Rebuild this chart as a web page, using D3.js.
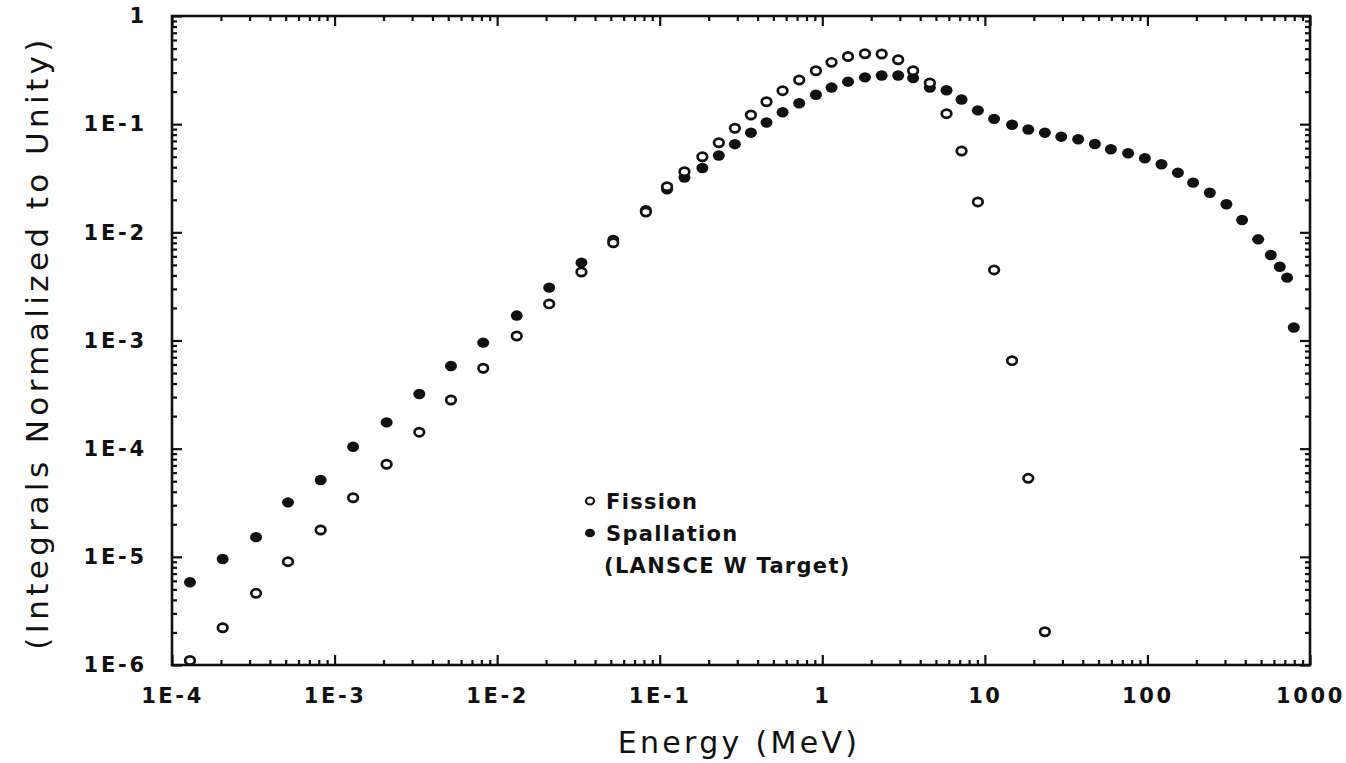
<!DOCTYPE html>
<html>
<head>
<meta charset="utf-8">
<script src="https://cdn.jsdelivr.net/npm/d3@7"></script>
<style>
  html, body { margin: 0; padding: 0; background: #fff; }
  svg { display: block; }
  .tick text { font-family: "DejaVu Sans", sans-serif; }
</style>
</head>
<body>
<svg id="chart" width="1346" height="763"></svg>
<script>
// ---- Data ----
const fissionEnergy = [1.29e-4, 2.05e-4, 3.29e-4, 5.17e-4, 8.21e-4, 1.30e-3, 2.09e-3, 3.32e-3, 5.20e-3, 8.21e-3,
  1.32e-2, 2.09e-2, 3.30e-2, 5.18e-2, 8.22e-2, 0.111, 0.142, 0.183, 0.231, 0.290,
  0.364, 0.454, 0.570, 0.721, 0.914, 1.14, 1.44, 1.83, 2.32, 2.93,
  3.62, 4.59, 5.81, 7.19, 9.06, 11.4, 14.7, 18.5, 23.4];
const fissionValue = [1.10e-6, 2.21e-6, 4.60e-6, 9.02e-6, 1.77e-5, 3.52e-5, 7.17e-5, 1.42e-4, 2.82e-4, 5.54e-4,
  1.10e-3, 2.18e-3, 4.30e-3, 8.0e-3, 1.54e-2, 2.64e-2, 3.64e-2, 5.00e-2, 6.74e-2, 9.16e-2,
  0.1215, 0.161, 0.204, 0.256, 0.312, 0.373, 0.422, 0.448, 0.445, 0.394,
  0.312, 0.240, 0.125, 0.0565, 0.0191, 4.49e-3, 6.51e-4, 5.32e-5, 2.03e-6];

const spallationEnergy = [1.29e-4, 2.05e-4, 3.29e-4, 5.17e-4, 8.21e-4, 1.30e-3, 2.09e-3, 3.32e-3, 5.20e-3, 8.21e-3,
  1.32e-2, 2.09e-2, 3.30e-2, 5.18e-2, 8.22e-2, 0.111, 0.142, 0.183, 0.231, 0.290,
  0.364, 0.454, 0.570, 0.721, 0.914, 1.14, 1.44, 1.83, 2.32, 2.93,
  3.62, 4.59, 5.81, 7.19, 9.06, 11.4, 14.7, 18.5, 23.4, 29.5,
  37.5, 47.5, 59.6, 76.1, 96.4, 122, 154, 191, 242, 306,
  382, 480, 574, 652, 723, 795];
const spallationValue = [5.82e-6, 9.55e-6, 1.52e-5, 3.19e-5, 5.13e-5, 1.04e-4, 1.75e-4, 3.20e-4, 5.81e-4, 9.55e-4,
  1.70e-3, 3.08e-3, 5.24e-3, 8.49e-3, 1.60e-2, 2.50e-2, 3.21e-2, 3.93e-2, 5.13e-2, 6.53e-2,
  8.34e-2, 0.1036, 0.1288, 0.156, 0.187, 0.218, 0.247, 0.271, 0.282, 0.282,
  0.267, 0.218, 0.206, 0.169, 0.134, 0.112, 0.0987, 0.0893, 0.0834, 0.0766,
  0.0725, 0.0656, 0.0586, 0.0538, 0.0484, 0.0426, 0.0356, 0.0288, 0.0232, 0.0182,
  0.0130, 0.00862, 0.00617, 0.00481, 0.00381, 0.00132];

const xTickValues = [1e-4, 1e-3, 1e-2, 1e-1, 1, 10, 100, 1000];
const xTickLabels = ["1E-4", "1E-3", "1E-2", "1E-1", "1", "10", "100", "1000"];
const yTickValues = [1e-6, 1e-5, 1e-4, 1e-3, 1e-2, 1e-1, 1];
const yTickLabels = ["1E-6", "1E-5", "1E-4", "1E-3", "1E-2", "1E-1", "1"];

const legendLabels = ["Fission", "Spallation", "(LANSCE W Target)"];
const xTitle = "Energy (MeV)";
const yTitle = "(Integrals Normalized to Unity)";

// ---- Layout ----
const L = 172, R = 1310, T = 16, B = 665;
const svg = d3.select("#chart");

const x = d3.scaleLog().domain([1e-4, 1000]).range([L, R]);
const y = d3.scaleLog().domain([1e-6, 1]).range([B, T]);

function minorTicks(domain) {
  const out = [];
  const lo = Math.round(Math.log10(domain[0])), hi = Math.round(Math.log10(domain[1]));
  for (let e = lo; e < hi; e++) for (let m = 2; m <= 9; m++) out.push(m * Math.pow(10, e));
  return out;
}
const xMinor = minorTicks(x.domain());
const yMinor = minorTicks(y.domain());

const axisStroke = 2.2;
function styleAxis(g) {
  g.select(".domain").remove();
  g.selectAll(".tick line").attr("stroke", "#111").attr("stroke-width", axisStroke);
}

// bottom
svg.append("g").attr("transform", `translate(0,${B})`)
  .call(d3.axisBottom(x).tickValues(xMinor).tickSize(-5).tickFormat(""))
  .call(styleAxis);
const xb = svg.append("g").attr("transform", `translate(0,${B})`)
  .call(d3.axisBottom(x).tickValues(xTickValues).tickSize(-10).tickPadding(23)
    .tickFormat((d, i) => xTickLabels[i]))
  .call(styleAxis);
xb.selectAll("text").attr("font-size", 21).attr("fill", "#111").attr("letter-spacing", 2.6)
  .attr("font-weight", "bold");

// top
svg.append("g").attr("transform", `translate(0,${T})`)
  .call(d3.axisTop(x).tickValues(xMinor).tickSize(-5).tickFormat(""))
  .call(styleAxis);
svg.append("g").attr("transform", `translate(0,${T})`)
  .call(d3.axisTop(x).tickValues(xTickValues).tickSize(-10).tickFormat(""))
  .call(styleAxis);

// left
svg.append("g").attr("transform", `translate(${L},0)`)
  .call(d3.axisLeft(y).tickValues(yMinor).tickSize(-5).tickFormat(""))
  .call(styleAxis);
const yl = svg.append("g").attr("transform", `translate(${L},0)`)
  .call(d3.axisLeft(y).tickValues(yTickValues).tickSize(-10).tickPadding(25)
    .tickFormat((d, i) => yTickLabels[i]))
  .call(styleAxis);
yl.selectAll("text").attr("font-size", 21).attr("fill", "#111").attr("letter-spacing", 2.8)
  .attr("font-weight", "bold");

// right
svg.append("g").attr("transform", `translate(${R},0)`)
  .call(d3.axisRight(y).tickValues(yMinor).tickSize(-5).tickFormat(""))
  .call(styleAxis);
svg.append("g").attr("transform", `translate(${R},0)`)
  .call(d3.axisRight(y).tickValues(yTickValues).tickSize(-10).tickFormat(""))
  .call(styleAxis);

// frame
svg.append("rect").attr("x", L).attr("y", T).attr("width", R - L).attr("height", B - T)
  .attr("fill", "none").attr("stroke", "#111").attr("stroke-width", 2.6);

// ---- Data points ----
const spall = spallationEnergy.map((e, i) => ({ e, v: spallationValue[i] }));
const fiss = fissionEnergy.map((e, i) => ({ e, v: fissionValue[i] }));

svg.append("g").selectAll("ellipse").data(spall).join("ellipse")
  .attr("cx", d => x(d.e)).attr("cy", d => y(d.v))
  .attr("rx", 6).attr("ry", 5.2).attr("fill", "#111");

svg.append("g").selectAll("ellipse").data(fiss).join("ellipse")
  .attr("cx", d => x(d.e)).attr("cy", d => y(d.v))
  .attr("rx", 4.8).attr("ry", 4.1).attr("fill", "#fff")
  .attr("stroke", "#111").attr("stroke-width", 2.7);

// ---- Legend ----
const lg = svg.append("g").attr("font-family", "DejaVu Sans, sans-serif")
  .attr("font-weight", "bold").attr("font-size", 21).attr("fill", "#111");
lg.append("ellipse").attr("cx", 590).attr("cy", 501).attr("rx", 4).attr("ry", 3.5)
  .attr("fill", "#fff").attr("stroke", "#111").attr("stroke-width", 2.2);
lg.append("ellipse").attr("cx", 590).attr("cy", 533).attr("rx", 5).attr("ry", 4.3)
  .attr("fill", "#111");
lg.append("text").attr("x", 606).attr("y", 509).attr("letter-spacing", 1.3).text(legendLabels[0]);
lg.append("text").attr("x", 606).attr("y", 541).attr("letter-spacing", 1.3).text(legendLabels[1]);
lg.append("text").attr("x", 604).attr("y", 573).attr("letter-spacing", 1.3).text(legendLabels[2]);

// ---- Axis titles ----
svg.append("text").attr("x", (L + R) / 2 - 2).attr("y", 753)
  .attr("text-anchor", "middle").attr("font-family", "DejaVu Sans, sans-serif")
  .attr("font-size", 30).attr("letter-spacing", 3.3).attr("fill", "#111").text(xTitle);

svg.append("text").attr("transform", `translate(48,${(T + B) / 2 + 2}) rotate(-90)`)
  .attr("text-anchor", "middle").attr("font-family", "DejaVu Sans, sans-serif")
  .attr("font-size", 31).attr("letter-spacing", 4.4).attr("fill", "#111").text(yTitle);
</script>
</body>
</html>
